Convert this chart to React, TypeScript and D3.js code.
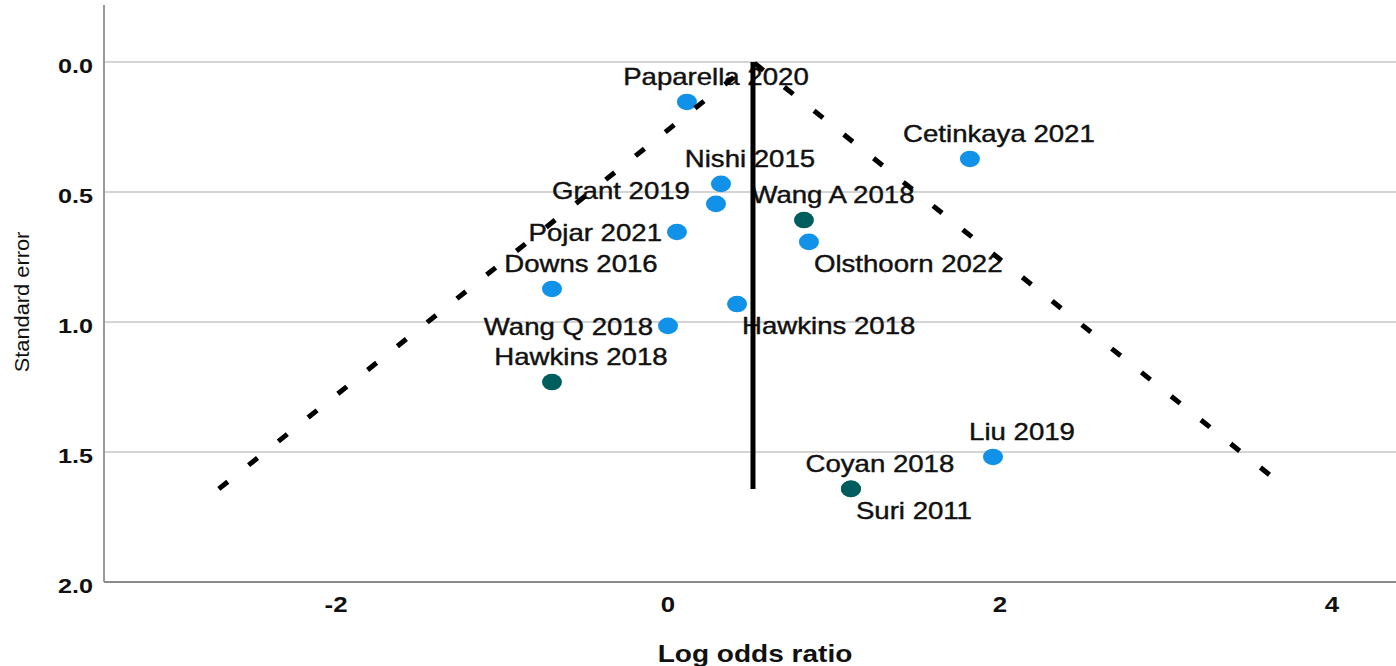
import React from "react";
import * as d3 from "d3";

// ---- data ----
const studies = [
  "Paparella 2020", "Cetinkaya 2021", "Nishi 2015", "Grant 2019", "Wang A 2018",
  "Pojar 2021", "Olsthoorn 2022", "Downs 2016", "Hawkins 2018", "Wang Q 2018",
  "Hawkins 2018", "Liu 2019", "Coyan 2018", "Suri 2011",
];
const logOddsRatio = [0.114, 1.819, 0.319, 0.289, 0.819, 0.054, 0.849, -0.699, 0.416, 0.0, -0.699, 1.958, 1.102, 1.102];
const standardError = [0.154, 0.373, 0.469, 0.546, 0.608, 0.654, 0.692, 0.873, 0.931, 1.015, 1.231, 1.519, 1.642, 1.642];
const subgroup = ["A", "A", "A", "A", "B", "A", "A", "A", "A", "A", "B", "A", "B", "B"];
const pooledEstimate = 0.512;
const xTicks = [-2, 0, 2, 4];
const yTicks = [0.0, 0.5, 1.0, 1.5, 2.0];

// label placement (layout only)
const labelPlacement = [
  "above", "above", "above", "upLeft", "above", "left", "belowRight", "above",
  "belowRight", "left", "above", "above", "above", "belowRight",
];

const W = 1396;
const H = 666;
const left = 104;
const right = 1396;
const top = 5;
const bottom = 582;

const colors: Record<string, string> = { A: "#1192e8", B: "#005d5d" };
const font = "'Liberation Sans', Arial, Helvetica, sans-serif";
const SX = 1.2;

export default function App() {
  const x = d3.scaleLinear().domain([-3.398, 4.386]).range([left, right]);
  const y = d3.scaleLinear().domain([-0.219, 2.0]).range([top, bottom]);

  const seMax = d3.max(standardError) as number;
  const funnel: [number, number][] = [
    [pooledEstimate - 1.96 * seMax, seMax],
    [pooledEstimate, 0],
    [pooledEstimate + 1.96 * seMax, seMax],
  ];
  const line = d3
    .line<[number, number]>()
    .x((d) => x(d[0]))
    .y((d) => y(d[1]));

  const labelFor = (i: number) => {
    const px = x(logOddsRatio[i]);
    const py = y(standardError[i]);
    const p = labelPlacement[i];
    if (p === "above") return { tx: px + 29, ty: py - 17, anchor: "middle" };
    if (p === "left") return { tx: px - 15, ty: py + 9, anchor: "end" };
    if (p === "upLeft") return { tx: px - 26, ty: py - 5, anchor: "end" };
    return { tx: px + 5, ty: py + 30, anchor: "start" };
  };

  return (
    <svg
      width={W}
      height={H}
      style={{ position: "absolute", left: 0, top: 0, background: "#fff" }}
    >
      {/* gridlines */}
      {yTicks.slice(0, -1).map((t) => (
        <line key={t} x1={left} x2={right} y1={y(t)} y2={y(t)} stroke="#d4d4d4" strokeWidth={2} />
      ))}
      {/* axes */}
      <line x1={left} x2={left} y1={top} y2={bottom} stroke="#9a9a9a" strokeWidth={2} />
      <line x1={left} x2={right} y1={bottom} y2={bottom} stroke="#8a8a8a" strokeWidth={2} />

      {/* y tick labels */}
      {yTicks.map((t) => (
        <g key={t} transform={`translate(93,${y(t) + 11}) scale(${SX},1)`}>
          <text textAnchor="end" fontFamily={font} fontWeight="bold" fontSize={21} fill="#111">
            {d3.format(".1f")(t)}
          </text>
        </g>
      ))}
      {/* x tick labels */}
      {xTicks.map((t) => (
        <g key={t} transform={`translate(${x(t)},612) scale(${SX},1)`}>
          <text textAnchor="middle" fontFamily={font} fontWeight="bold" fontSize={21.5} fill="#111">
            {t}
          </text>
        </g>
      ))}

      {/* axis titles */}
      <g transform={`translate(755,662) scale(1.22,1)`}>
        <text textAnchor="middle" fontFamily={font} fontWeight="bold" fontSize={23} fill="#111">
          Log odds ratio
        </text>
      </g>
      <g transform={`translate(29,302) rotate(-90) scale(1.04,1)`}>
        <text textAnchor="middle" fontFamily={font} fontSize={21} fill="#111">
          Standard error
        </text>
      </g>

      {/* points */}
      {studies.map((s, i) => (
        <ellipse
          key={"p" + i}
          cx={x(logOddsRatio[i])}
          cy={y(standardError[i])}
          rx={10}
          ry={8.3}
          fill={colors[subgroup[i]]}
        />
      ))}

      {/* labels */}
      {studies.map((s, i) => {
        const l = labelFor(i);
        return (
          <g key={"l" + i} transform={`translate(${l.tx},${l.ty}) scale(${SX},1)`}>
            <text
              textAnchor={l.anchor as any}
              fontFamily={font}
              fontSize={23}
              fill="#111"
              stroke="#111"
              strokeWidth={0.4}
            >
              {s}
            </text>
          </g>
        );
      })}

      {/* funnel & pooled estimate */}
      <path
        d={line(funnel) as string}
        fill="none"
        stroke="#000"
        strokeWidth={5}
        strokeDasharray="11.5 26.6"
      />
      <line
        x1={x(pooledEstimate)}
        x2={x(pooledEstimate)}
        y1={y(0)}
        y2={y(seMax)}
        stroke="#000"
        strokeWidth={5}
      />
    </svg>
  );
}
